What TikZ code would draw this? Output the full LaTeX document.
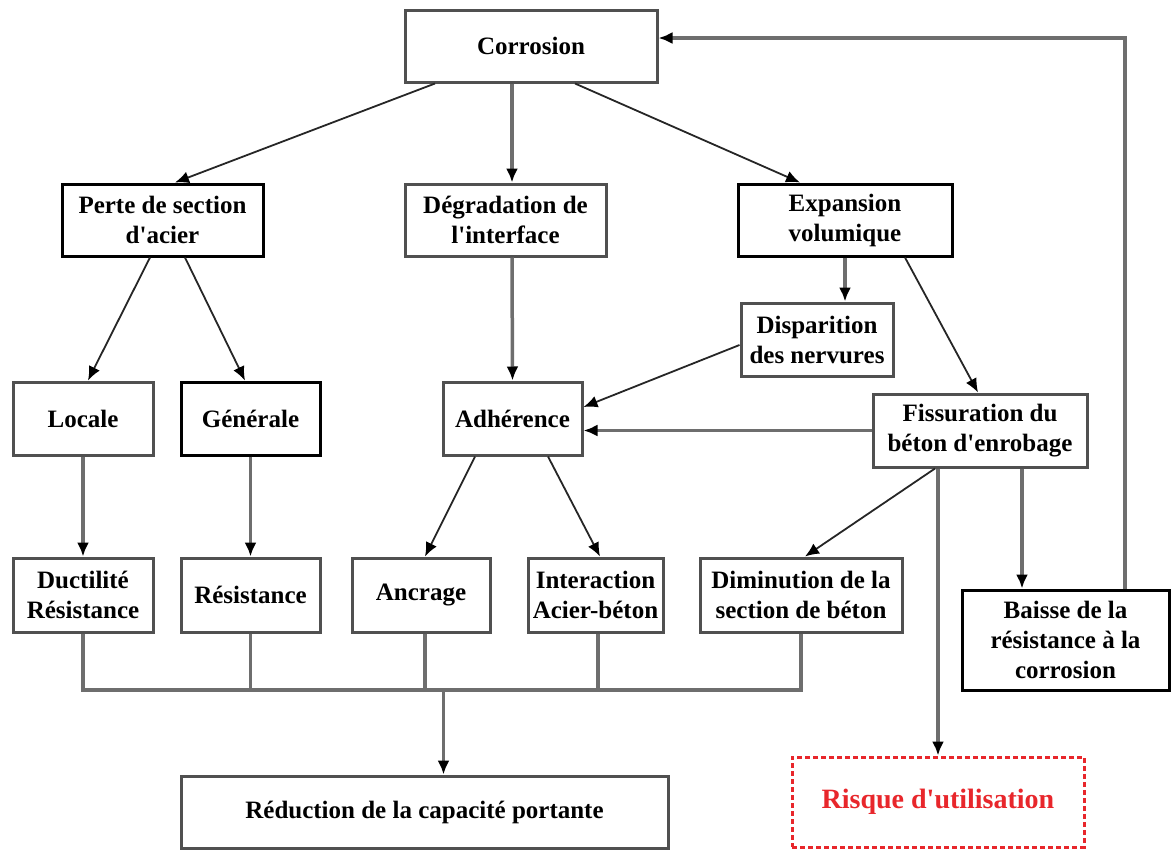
\documentclass[tikz,border=0pt]{standalone}
\usepackage{fontspec}
\setmainfont{Liberation Serif}
\usetikzlibrary{arrows.meta}
\definecolor{linegray}{HTML}{6E6E6E}
\definecolor{boxgray}{HTML}{505050}
\definecolor{riskred}{HTML}{E8262B}
\newcommand{\apos}{\textquotesingle}
\tikzset{
  box/.style={draw=boxgray, line width=3pt, fill=white, inner sep=0pt, align=center,
    font=\fontsize{25}{30}\selectfont\bfseries},
  darkbox/.style={box, draw=black},
  gconn/.style={draw=linegray, line width=3.5pt, -{Latex[length=14pt,width=12pt,color=black]}},
  gline/.style={draw=linegray, line width=3.5pt},
  bconn/.style={draw=black!85, line width=1.8pt, -{Latex[length=14pt,width=12pt,color=black]}},
}
\begin{document}
\begin{tikzpicture}[x=1pt,y=-1pt]
\useasboundingbox (0,0) rectangle (1171,852);
% nodes
\node[box, minimum width=252pt, minimum height=72pt] (corr) at (531,46) {Corrosion};
\node[darkbox, minimum width=201pt, minimum height=72pt] (perte) at (162.5,220) {Perte de section\\d\apos acier};
\node[box, minimum width=201pt, minimum height=72pt] (degr) at (505.5,220) {Dégradation de\\l\apos interface};
\node[darkbox, minimum width=214pt, minimum height=72pt] (expa) at (845,220) {Expansion\\volumique};
\node[box, minimum width=152pt, minimum height=73pt] (disp) at (817,339.5) {Disparition\\des nervures};
\node[box, minimum width=140pt, minimum height=73pt] (loc) at (83,418.5) {Locale};
\node[darkbox, minimum width=139pt, minimum height=73pt] (gen) at (250.5,418.5) {Générale};
\node[box, minimum width=139pt, minimum height=73pt] (adh) at (512.5,418.5) {Adhérence};
\node[box, minimum width=214pt, minimum height=73pt] (fiss) at (980,430.5) {Fissuration du\\béton d\apos enrobage};
\node[box, minimum width=140pt, minimum height=74pt] (duct) at (83,595) {Ductilité\\Résistance};
\node[box, minimum width=139pt, minimum height=74pt] (res) at (250.5,595) {Résistance};
\node[box, minimum width=138pt, minimum height=74pt] (anc) at (421,595) {Ancrage};
\node[box, minimum width=135pt, minimum height=74pt] (inter) at (595.5,595) {Interaction\\Acier-béton};
\node[box, minimum width=202pt, minimum height=74pt] (dimi) at (801,595) {Diminution de la\\section de béton};
\node[darkbox, minimum width=207pt, minimum height=100pt] (baisse) at (1065.5,640) {Baisse de la\\résistance à la\\corrosion};
\node[box, minimum width=487pt, minimum height=72pt] (redu) at (424.5,812) {Réduction de la capacité portante};
\node[box, draw=riskred, dash pattern=on 5pt off 3pt, line width=3pt, text=riskred,
  font=\fontsize{28}{32}\selectfont\bfseries, minimum width=292pt, minimum height=90pt] (risq) at (938,802) {Risque d\apos utilisation};
\coordinate (busy) at (0,690);
\coordinate (topy) at (0,38);
% connectors from Corrosion
\draw[bconn] ([xshift=-96pt]corr.south) -- ([xshift=12.5pt]perte.north);
\draw[gconn] ([xshift=-19pt]corr.south) -- ([xshift=6.5pt]degr.north);
\draw[bconn] ([xshift=44pt]corr.south) -- ([xshift=-45pt]expa.north);
% Perte
\draw[bconn] ([xshift=-12.5pt]perte.south) -- ([xshift=5pt]loc.north);
\draw[bconn] ([xshift=22.5pt]perte.south) -- ([xshift=-5.5pt]gen.north);
\draw[gconn] (loc.south) -- (duct.north);
\draw[gconn] (gen.south) -- (res.north);
% Dégradation
\draw[gconn] ([xshift=6.5pt]degr.south) -- (adh.north);
% Expansion
\draw[gconn] (expa.south) -- ([xshift=28pt]disp.north);
\draw[bconn] ([xshift=60pt]expa.south) -- ([xshift=-2pt]fiss.north);
% to Adhérence
\draw[bconn] ([yshift=-5.5pt]disp.west) -- ([yshift=11.5pt]adh.east);
\draw[gconn] (fiss.west) -- (fiss.west -| adh.east);
% Adhérence
\draw[bconn] ([xshift=-37.5pt]adh.south) -- ([xshift=4pt]anc.north);
\draw[bconn] ([xshift=35.5pt]adh.south) -- ([xshift=4.5pt]inter.north);
% Fissuration
\draw[bconn] ([xshift=-45pt]fiss.south) -- ([xshift=4pt]dimi.north);
\draw[gconn] ([xshift=-42pt]fiss.south) -- (risq.north);
\draw[gconn] ([xshift=42pt]fiss.south) -- ([xshift=-43.5pt]baisse.north);
% feedback
\draw[gconn] ([xshift=59.5pt]baisse.north) -- ([xshift=59.5pt]baisse.north |- topy) -- ([yshift=8pt]corr.east);
% bus
\draw[gline] (duct.south) -- (duct.south |- busy) -| (dimi.south);
\draw[gline] (res.south) -- (res.south |- busy);
\draw[gline] ([xshift=4pt]anc.south) -- ([xshift=4pt]anc.south |- busy);
\draw[gline] ([xshift=2.5pt]inter.south) -- ([xshift=2.5pt]inter.south |- busy);
\draw[gconn] ([xshift=19pt]redu.north |- busy) -- ([xshift=19pt]redu.north);
\end{tikzpicture}
\end{document}
